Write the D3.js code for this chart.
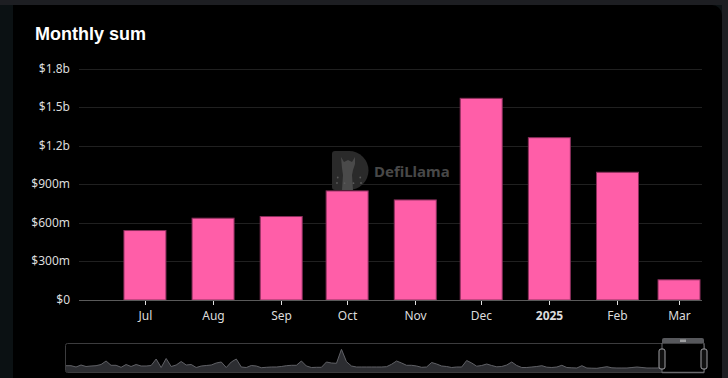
<!DOCTYPE html>
<html lang="en">
  <head>
    <meta charset="UTF-8" />
    <title>Monthly sum</title>
    <style>
      html, body {
        margin: 0;
        padding: 0;
        background: #0b1113;
        overflow: hidden;
      }
      svg {
        display: block;
        font-family: "Noto Sans", sans-serif;
      }
      .title {
        font-family: "Liberation Sans", Arial, sans-serif;
        font-weight: bold;
        font-size: 18px;
        fill: #ffffff;
      }
      .y-label {
        text-anchor: end;
        font-size: 12px;
        fill: #dcdcdc;
      }
      .x-label {
        text-anchor: middle;
        font-size: 12px;
        fill: #dcdcdc;
      }
      .bar {
        fill: #ff5ea8;
        stroke: #8a2f5c;
        stroke-width: 1;
      }
    </style>
  </head>
  <body>
    <script src="https://cdn.jsdelivr.net/npm/d3@7"></script>
    <script>
      // monthly sums (USD)
      const months = [
        "2024-07-01", "2024-08-01", "2024-09-01", "2024-10-01", "2024-11-01",
        "2024-12-01", "2025-01-01", "2025-02-01", "2025-03-01"
      ];
      const monthLabels = ["Jul", "Aug", "Sep", "Oct", "Nov", "Dec", "2025", "Feb", "Mar"];
      const values = [544e6, 640e6, 653e6, 852e6, 782e6, 1572e6, 1266e6, 997e6, 161e6];

      const yTicks = [0, 3e8, 6e8, 9e8, 1.2e9, 1.5e9, 1.8e9];
      const yTickLabels = ["$0", "$300m", "$600m", "$900m", "$1.2b", "$1.5b", "$1.8b"];

      // overview line in the zoom slider (relative heights)
      const overview = [
        6.3, 6.3, 5, 7, 5.5, 6, 6.3, 7.5, 11, 6.7, 6.7, 4.7, 7.5, 5.5, 7.5, 6, 6, 6.5, 13, 4.5,
        13.5, 5.5, 7, 10.5, 7, 7.5, 4.5, 6, 6.5, 7, 9, 10, 4.5, 10, 13, 5, 4.5, 6.5, 6, 4.3,
        4.7, 5, 5, 5.5, 6.3, 6.7, 6.7, 11, 6, 4.5, 4.7, 4.7, 10, 9, 8.7, 22.7, 10.3, 6, 5, 5,
        5, 5, 5, 5, 5.3, 7.7, 11, 9, 6.7, 6.7, 6, 4.7, 5, 9.5, 8, 6, 5.5, 4.5, 5, 5,
        11.5, 9, 5.8, 6.5, 8, 6.5, 5.2, 5.5, 7, 10, 6.5, 4.5, 4.5, 5, 5.5, 6.3, 4.8, 4.5, 5, 6.7,
        4.5, 4.2, 4, 6.3, 4, 3.8, 3.7, 4.5, 5.3, 4.2, 4, 4, 4, 4.5, 5, 4.5, 4, 4, 4, 4.3
      ];

      const W = 728, H = 378;
      const plotLeft = 79, plotRight = 701, plotTop = 68.5, plotBottom = 300;
      const barWidth = 43;

      const svg = d3.select("body").append("svg").attr("width", W).attr("height", H);

      // page frame
      svg.append("rect").attr("x", 0).attr("y", 0).attr("width", W).attr("height", 5).attr("fill", "#1d1e22");
      svg.append("rect").attr("x", 722).attr("y", 0).attr("width", 6).attr("height", H).attr("fill", "#1d1e22");
      svg.append("path")
        .attr("d", `M13,5 H712 A10,10 0 0 1 722,15 V${H} H13 Z`)
        .attr("fill", "#000");

      svg.append("text").attr("class", "title").attr("x", 35).attr("y", 40).text("Monthly sum");

      const x = d3.scaleUtc()
        .domain([new Date("2024-06-01"), new Date("2025-03-11")])
        .range([plotLeft, plotRight]);
      const y = d3.scaleLinear().domain([0, 1.8e9]).range([plotBottom, plotTop]);

      // grid
      const gGrid = svg.append("g");
      yTicks.forEach((t, i) => {
        if (i > 0) {
          gGrid.append("line")
            .attr("x1", plotLeft).attr("x2", plotRight + 1)
            .attr("y1", Math.round(y(t)) + 0.5).attr("y2", Math.round(y(t)) + 0.5)
            .attr("stroke", "#202020");
        }
        gGrid.append("text")
          .attr("class", "y-label")
          .attr("x", 70)
          .attr("y", y(t) + 4)
          .text(yTickLabels[i]);
      });

      // watermark
      const wm = svg.append("g").attr("transform", "translate(332,151)");
      wm.append("path")
        .attr("d", "M3,0 H17 A19.5,19.5 0 0 1 17,39 H3 Q0,39 0,36 V3 Q0,0 3,0 Z")
        .attr("fill", "#2a2a2a");
      wm.append("path")
        .attr("d", "M9,6 L12,11 L16,9 L20,11 L23,6 L23,13 L21,19 L20,24 L21,39 L10,39 L11,24 L10,17 Z")
        .attr("fill", "#4a4a4a");
      [[-60, 13], [-20, 13], [20, 13], [60, 13], [-45, 17], [45, 17]].forEach(([a, r]) => {
        const rad = (a - 90) * Math.PI / 180;
        const cx = 17 + Math.cos(rad) * r, cy = 20 + Math.sin(rad) * r * -1;
        wm.append("circle").attr("cx", cx).attr("cy", 20 + (cy - 20)).attr("r", 0.9).attr("fill", "#5a5a5a");
      });
      svg.append("text")
        .attr("x", 374).attr("y", 177)
        .attr("font-weight", "bold").attr("font-size", 15)
        .attr("fill", "#484848")
        .text("DefiLlama");

      // bars
      svg.append("g")
        .selectAll("rect")
        .data(months)
        .join("rect")
        .attr("class", "bar")
        .attr("x", (d) => x(new Date(d)) - barWidth / 2 + 0.5)
        .attr("y", (d, i) => y(values[i]) + 0.5)
        .attr("width", barWidth - 1)
        .attr("height", (d, i) => y(0) - y(values[i]) - 0.5);

      // x axis
      svg.append("line")
        .attr("x1", plotLeft).attr("x2", plotRight + 1)
        .attr("y1", plotBottom + 0.5).attr("y2", plotBottom + 0.5)
        .attr("stroke", "#5a5a5a");
      const gX = svg.append("g");
      months.forEach((m, i) => {
        const px = Math.round(x(new Date(m))) + 0.5;
        gX.append("line")
          .attr("x1", px).attr("x2", px)
          .attr("y1", plotBottom + 1).attr("y2", plotBottom + 5)
          .attr("stroke", "#e0e0e0");
        gX.append("text")
          .attr("class", "x-label")
          .attr("x", px)
          .attr("y", 320)
          .attr("font-weight", monthLabels[i] === "2025" ? "bold" : null)
          .attr("fill", monthLabels[i] === "2025" ? "#ffffff" : null)
          .text(monthLabels[i]);
      });

      // zoom slider
      const sl = { x0: 65.5, x1: 704.5, y0: 343.5, y1: 372.5, w0: 662, w1: 704 };
      svg.append("rect")
        .attr("x", sl.x0).attr("y", sl.y0)
        .attr("width", sl.x1 - sl.x0).attr("height", sl.y1 - sl.y0)
        .attr("rx", 2)
        .attr("fill", "none").attr("stroke", "#3c3c3e");
      const ox = d3.scaleLinear().domain([0, overview.length - 1]).range([66, sl.w0]);
      const oy = d3.scaleLinear().domain([0, 30]).range([372, 342]);
      svg.append("path")
        .datum(overview)
        .attr("d", d3.area().x((d, i) => ox(i)).y0(372).y1((d) => oy(d)))
        .attr("fill", "#2c2d31");
      svg.append("path")
        .datum(overview)
        .attr("d", d3.line().x((d, i) => ox(i)).y((d) => oy(d)))
        .attr("fill", "none").attr("stroke", "#606166").attr("stroke-width", 1);
      // selected window
      svg.append("line")
        .attr("x1", sl.w0).attr("x2", sl.w1).attr("y1", sl.y1).attr("y2", sl.y1)
        .attr("stroke", "#6a6a6e").attr("stroke-width", 1.5);
      svg.append("path")
        .attr("d", `M${sl.w0},343 V340 Q${sl.w0},338 ${sl.w0 + 2},338 H${sl.w1 - 2} Q${sl.w1},338 ${sl.w1},340 V343 Z`)
        .attr("fill", "#57585c");
      [-2, 0, 2].forEach((dx) => {
        svg.append("rect")
          .attr("x", (sl.w0 + sl.w1) / 2 + dx - 0.5).attr("y", 339.5)
          .attr("width", 1).attr("height", 2.5).attr("fill", "#e8e8e8");
      });
      [sl.w0, sl.w1].forEach((hx) => {
        svg.append("line")
          .attr("x1", hx).attr("x2", hx).attr("y1", 343).attr("y2", 373)
          .attr("stroke", "#6a6a6e");
        svg.append("rect")
          .attr("x", hx - 3).attr("y", 349).attr("width", 6).attr("height", 20)
          .attr("rx", 2)
          .attr("fill", "#111").attr("stroke", "#a0a0a4").attr("stroke-width", 1);
      });
    </script>
  </body>
</html>
